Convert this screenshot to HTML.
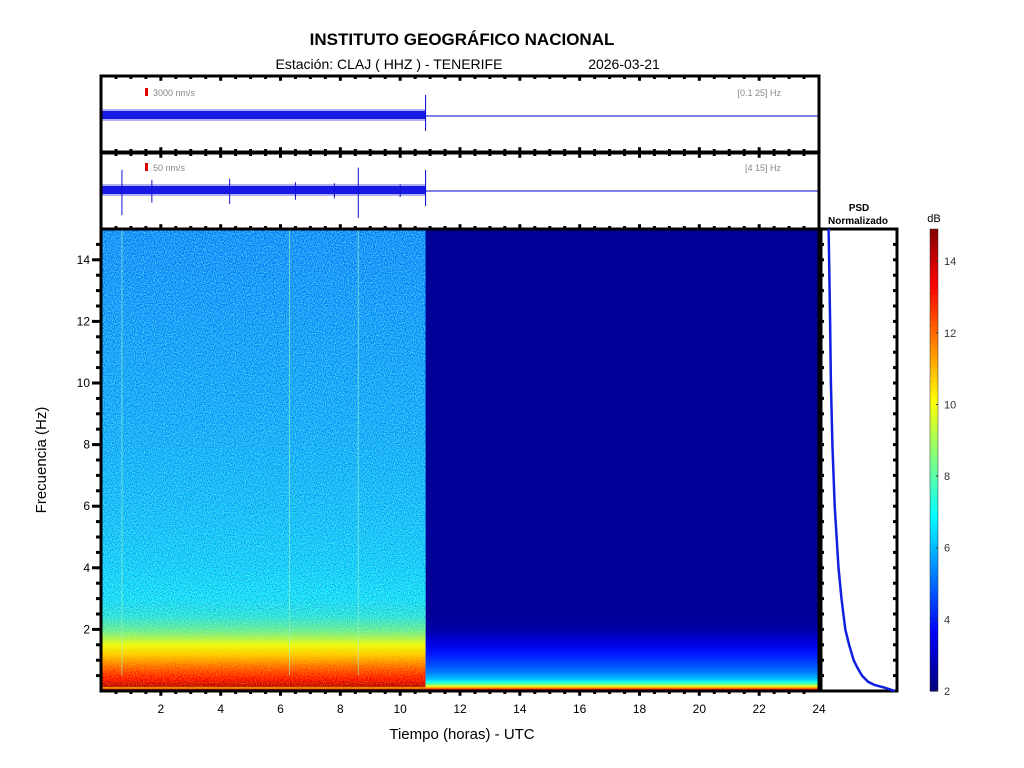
<!DOCTYPE html>
<html><head><meta charset="utf-8"><style>
html,body{margin:0;padding:0;background:#fff;}
svg{display:block;font-family:"Liberation Sans",Arial,sans-serif;}
</style></head><body>
<svg id="chart" width="1024" height="768" viewBox="0 0 1024 768">
<defs>
<filter id="speckDark" x="0" y="0" width="100%" height="100%">
<feTurbulence type="fractalNoise" baseFrequency="0.95" numOctaves="1" seed="3" result="n"/>
<feColorMatrix in="n" type="matrix" values="0 0 0 0 0  0 0 0 0 0.15  0 0 0 0 0.75  0 0 0 -3.5 2.3" result="dots"/>
<feComposite in="dots" in2="SourceGraphic" operator="in"/>
</filter>
<filter id="speckLight" x="0" y="0" width="100%" height="100%">
<feTurbulence type="fractalNoise" baseFrequency="0.9" numOctaves="1" seed="11" result="n"/>
<feColorMatrix in="n" type="matrix" values="0 0 0 0 0.2  0 0 0 0 1  0 0 0 0 1  0 0 0 3.5 -1.3" result="dots"/>
<feComposite in="dots" in2="SourceGraphic" operator="in"/>
</filter>
<filter id="speckWarm" x="0" y="0" width="100%" height="100%">
<feTurbulence type="fractalNoise" baseFrequency="0.85" numOctaves="1" seed="21" result="n"/>
<feColorMatrix in="n" type="matrix" values="0 0 0 0 1  0 0 0 0 0.75  0 0 0 0 0  0 0 0 3.5 -1.5" result="dots"/>
<feComposite in="dots" in2="SourceGraphic" operator="in"/>
</filter>
<linearGradient id="fadeLight" x1="0" y1="0" x2="0" y2="1">
<stop offset="0" stop-color="#fff"/><stop offset="0.82" stop-color="#fff"/><stop offset="0.9" stop-color="#000"/><stop offset="1" stop-color="#000"/>
</linearGradient>
<linearGradient id="fadeWarm" x1="0" y1="0" x2="0" y2="1">
<stop offset="0" stop-color="#000"/><stop offset="0.84" stop-color="#000"/><stop offset="0.9" stop-color="#fff"/><stop offset="0.985" stop-color="#fff"/><stop offset="1" stop-color="#000"/>
</linearGradient>
<mask id="mLight"><rect x="101" y="229" width="324" height="462" fill="url(#fadeLight)"/></mask>
<mask id="mWarm"><rect x="101" y="229" width="324" height="462" fill="url(#fadeWarm)"/></mask>
</defs>
<text x="462" y="45" text-anchor="middle" font-size="17" font-weight="bold">INSTITUTO GEOGRÁFICO NACIONAL</text>
<text x="389" y="69" text-anchor="middle" font-size="14">Estación:  CLAJ ( HHZ ) - TENERIFE</text>
<text x="624" y="69" text-anchor="middle" font-size="14">2026-03-21</text>
<g id="traces"></g>
<g id="spec"></g>
<g id="axes"></g>
<g id="psd"></g>
<g id="cbar"></g>
<text x="462" y="739" text-anchor="middle" font-size="15">Tiempo (horas) - UTC</text>
<text transform="translate(46,460) rotate(-90)" text-anchor="middle" font-size="15">Frecuencia  (Hz)</text>
<text x="859" y="211" text-anchor="middle" font-size="10" font-weight="bold">PSD</text>
<text x="858" y="224" text-anchor="middle" font-size="10" font-weight="bold">Normalizado</text>
</svg>
<script>
// ---- data ----
const dataEndHour = 10.85;
const freqPts = [0,0.05,0.1,0.15,0.2,0.3,0.4,0.6,0.8,1.0,1.2,1.5,1.8,2.0,2.5,3,4,5,6,8,10,12,14,15];
const dbActive = [13.5,14.2,11,14.2,14,13.6,13.2,12.6,12,11.3,10.7,9.8,8.8,8.2,7.4,6.9,6.5,6.3,6.1,5.8,5.6,5.4,5.2,5.1];
const dbIdle =   [14,13,11.5,10,8.5,7,6,5.2,4.7,4.3,3.9,3.3,2.8,2.5,2.3,2.3,2.3,2.3,2.3,2.3,2.3,2.3,2.3,2.3];
const xTicks = [2,4,6,8,10,12,14,16,18,20,22,24];
const yTicks = [2,4,6,8,10,12,14];
const cbTicks = [2,4,6,8,10,12,14];
const psdFreq = [0,0.1,0.2,0.3,0.5,0.8,1,1.5,2,3,4,6,8,10,12,15];
const psdVal =  [0.97,0.85,0.7,0.62,0.54,0.47,0.43,0.37,0.32,0.27,0.23,0.18,0.15,0.13,0.12,0.1];
const spikeHours = [0.7,1.7,4.3,6.5,7.8,8.6,10.0];
const spikeAmp = [0.9,0.45,0.5,0.35,0.3,1.0,0.25];

const NS='http://www.w3.org/2000/svg';
const X0=101,X1=819,Y0=691,Y1=229,dbMin=2,dbMax=14.9;
const xs=h=>X0+(h/24)*(X1-X0);
const ys=f=>Y0-(f/15)*(Y0-Y1);
function jet(v){let t=(v-dbMin)/(dbMax-dbMin);t=Math.max(0,Math.min(1,t));
 const c=x=>Math.round(255*Math.max(0,Math.min(1,1.5-Math.abs(4*t-x))));
 return `rgb(${c(3)},${c(2)},${c(1)})`;}
function mk(tag,attrs,parent){const e=document.createElementNS(NS,tag);for(const k in attrs)e.setAttribute(k,attrs[k]);parent.appendChild(e);return e;}
const svg=document.getElementById('chart');
const defs=svg.querySelector('defs');
function grad(id,vals){const g=mk('linearGradient',{id:id,x1:0,y1:1,x2:0,y2:0},defs);
 freqPts.forEach((f,i)=>mk('stop',{offset:(f/15).toFixed(4),'stop-color':jet(vals[i])},g));}
grad('gA',dbActive);grad('gI',dbIdle);

// spectrogram
const spec=document.getElementById('spec');
const xe=xs(dataEndHour);
const ra=mk('rect',{x:X0,y:Y1,width:xe-X0,height:Y0-Y1,fill:'url(#gA)'},spec);


const ri=mk('rect',{x:xe,y:Y1,width:X1-xe,height:Y0-Y1,fill:'url(#gI)'},spec);


const sp=mk('rect',{x:X0,y:Y1,width:xe-X0,height:Y0-Y1,fill:'#fff',filter:'url(#speckDark)',opacity:'0.6',mask:'url(#mLight)'},spec);


const sl=mk('rect',{x:X0,y:Y1,width:xe-X0,height:Y0-Y1,fill:'#fff',filter:'url(#speckLight)',opacity:'0.55',mask:'url(#mLight)'},spec);


const sw=mk('rect',{x:X0,y:Y1,width:xe-X0,height:Y0-Y1,fill:'#fff',filter:'url(#speckWarm)',opacity:'0.45',mask:'url(#mWarm)'},spec);


[0.7,6.3,8.6].forEach(h=>{const l=mk('line',{x1:xs(h),x2:xs(h),y1:Y1,y2:ys(0.5),stroke:'#9ff5c0','stroke-width':1,opacity:0.6},spec);
 
 });

// axes
const ax=document.getElementById('axes');
function frame(x,y,w,h,name){const r=mk('rect',{x:x,y:y,width:w,height:h,fill:'none',stroke:'#000','stroke-width':3},ax);
 
 }
frame(101,76,718,76,'trace-panel-1');
frame(101,153,718,76,'trace-panel-2');
frame(101,229,718,462,'spectrogram-frame');
frame(821,229,76,462,'psd-frame');
function tickRow(y,dir,len){for(let h=0.5;h<24;h+=0.5){const L=(h%2===0)?len*1.6:len;mk('line',{x1:xs(h),x2:xs(h),y1:y,y2:y+dir*L,stroke:'#000','stroke-width':3},ax);}}
tickRow(76,1,3);tickRow(152,-1,3);tickRow(153,1,3);tickRow(229,-1,3);tickRow(691,1,3);
for(let f=0.5;f<15;f+=0.5){const L=(f%2===0)?9:5;const y=ys(f);
 mk('line',{x1:101-L,x2:101,y1:y,y2:y,stroke:'#000','stroke-width':3},ax);
 mk('line',{x1:821,x2:824,y1:y,y2:y,stroke:'#000','stroke-width':3},ax);
 mk('line',{x1:893,x2:897,y1:y,y2:y,stroke:'#000','stroke-width':3},ax);}
xTicks.forEach(h=>{const t=mk('text',{x:xs(h),y:713,'text-anchor':'middle','font-size':12},ax);t.textContent=h;
 
 });
yTicks.forEach(f=>{const t=mk('text',{x:90,y:ys(f)+4,'text-anchor':'end','font-size':12},ax);t.textContent=f;
 
 });

// traces
const tr=document.getElementById('traces');
function trace(cy,amp,label,filt){
 mk('rect',{x:102,y:cy-amp,width:xe-102,height:2*amp,fill:'#1a1ae6'},tr);
 mk('rect',{x:102,y:cy-amp-2,width:xe-102,height:2*amp+4,fill:'#1a1ae6',opacity:0.35},tr);
 mk('line',{x1:xe,x2:818,y1:cy+1,y2:cy+1,stroke:'#0000d0','stroke-width':1},tr);
 mk('line',{x1:xe,x2:xe,y1:cy-20,y2:cy+16,stroke:'#0000d0','stroke-width':1},tr);
 mk('rect',{x:145,y:cy-27,width:3,height:8,fill:'#e00000'},tr);
 const t=mk('text',{x:153,y:cy-19,'font-size':9,fill:'#888'},tr);t.textContent=label;
 
 
 const t2=mk('text',{x:781,y:cy-19,'font-size':9,fill:'#888','text-anchor':'end'},tr);t2.textContent=filt;
 
 }
trace(115,4,'3000 nm/s','[0.1 25] Hz');
trace(190,4,'50 nm/s','[4 15] Hz');
spikeHours.forEach((h,i)=>{const a=spikeAmp[i]*28;
 const l=mk('line',{x1:xs(h),x2:xs(h),y1:190-a*0.8,y2:190+a,stroke:'#1010d0','stroke-width':1},tr);
 
 });

// psd
const psd=document.getElementById('psd');
const px=v=>821+v*76;
let d='';psdFreq.forEach((f,i)=>{d+=(i?'L':'M')+px(psdVal[i]).toFixed(1)+','+ys(f).toFixed(1);});
const pl=mk('path',{d:d,fill:'none',stroke:'#1020e0','stroke-width':2.5},psd);



// colorbar
const cb=document.getElementById('cbar');
for(let i=0;i<100;i++){const v=dbMin+(dbMax-dbMin)*i/100;const y0=691-462*(i+1)/100;
 mk('rect',{x:930,y:y0,width:8,height:462/100+0.6,fill:jet(v)},cb);}
mk('rect',{x:930,y:229,width:8,height:462,fill:'none',stroke:'#333','stroke-width':0.5},cb);
const cys=v=>691-(v-dbMin)/(dbMax-dbMin)*462;
cbTicks.forEach(v=>{mk('line',{x1:936,x2:938,y1:cys(v),y2:cys(v),stroke:'#333'},cb);
 const t=mk('text',{x:944,y:cys(v)+4,'font-size':11,fill:'#333'},cb);t.textContent=v;
 
 });
const u=mk('text',{x:934,y:222,'font-size':11,'text-anchor':'middle'},cb);u.textContent='dB';


</script>
</body></html>
